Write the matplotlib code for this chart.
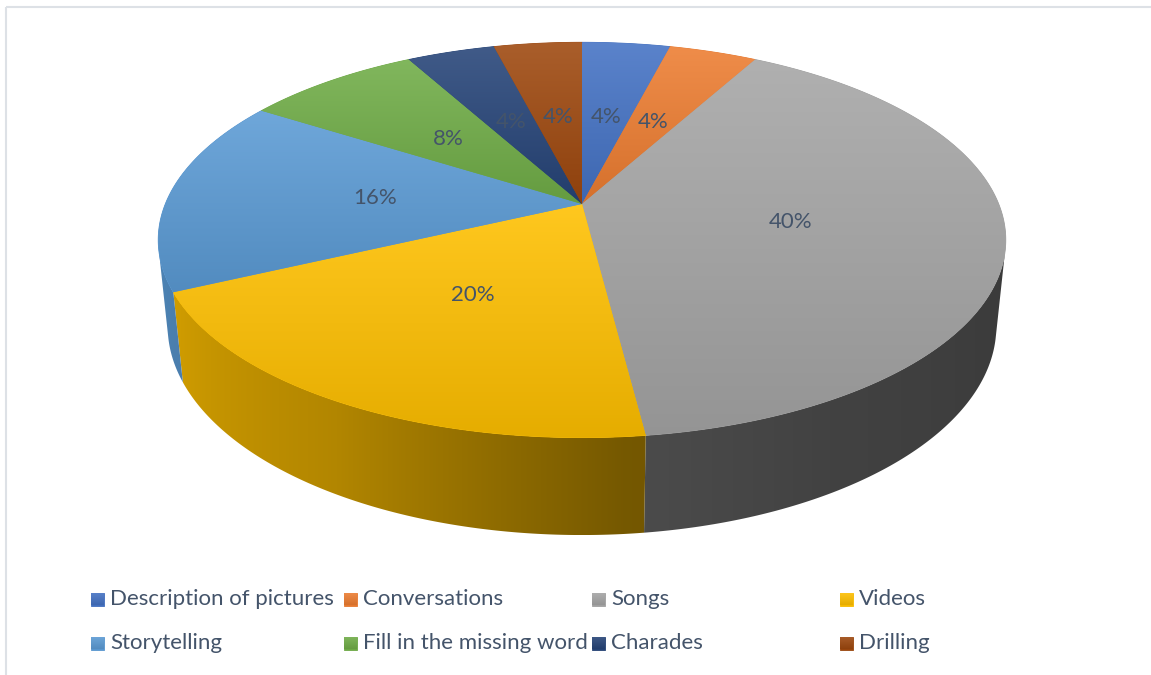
import numpy as np
import matplotlib.pyplot as plt
from matplotlib.patches import Polygon, Rectangle
from matplotlib.colors import to_rgb

categories = ['Description of pictures', 'Conversations', 'Songs', 'Videos',
              'Storytelling', 'Fill in the missing word', 'Charades', 'Drilling']
shares = [4, 4, 40, 20, 16, 8, 4, 4]
colors = ['#4472C4', '#ED7D31', '#A5A5A5', '#FFC000',
          '#5B9BD5', '#70AD47', '#264478', '#9E480E']

W, H = 1151, 675
TEXT = '#44546A'
FONT = 'Lato'

# camera for the tilted disc (unit radius, looking down from the front)
ELEV = np.radians(27.3)
DIST = 4.886
FOCAL = 2036.0
THICK = 0.235
CX, CY = 582, 204


def project(x, y, z):
    c, s = np.cos(ELEV), np.sin(ELEV)
    depth = DIST + y * c - z * s
    px = CX + FOCAL * x / depth
    py = CY - FOCAL * (y * s + z * c) / depth
    return px, py


def side_shade(theta_deg):
    # darker towards the right, lit from the left
    return np.interp(theta_deg, [-180, -167, -120, -85, -60, -13, 0],
                     [0.86, 0.86, 0.70, 0.46, 0.40, 0.35, 0.35])


def add_image(ax, img, poly, x0, x1, y0, y1, zorder):
    im = ax.imshow(img, extent=(x0, x1, y1, y0), origin='upper',
                   interpolation='bilinear', aspect='auto', zorder=zorder)
    im.set_clip_path(poly)


def gradient_patch(ax, xy, rgb, zorder):
    # vertical gradient, lighter at the top of the shape
    rgb = np.array(rgb)
    poly = Polygon(xy, closed=True, facecolor=rgb * 0.97, edgecolor=rgb * 0.97,
                   lw=0.6, zorder=zorder)
    ax.add_patch(poly)
    t = np.linspace(0, 1, 256)[:, None]
    light = rgb + (1 - rgb) * 0.12
    dark = rgb * 0.90
    img = (light * (1 - t) + dark * t)[:, None, :]
    add_image(ax, img, poly, xy[:, 0].min(), xy[:, 0].max(),
              xy[:, 1].min(), xy[:, 1].max(), zorder + 0.1)


fig = plt.figure(figsize=(W / 100, H / 100), dpi=100)
ax = fig.add_axes([0, 0, 1, 1])

total = sum(shares)
starts = np.cumsum([0] + shares[:-1]) / total
ends = np.cumsum(shares) / total
vis_limit = -1.0 / (DIST * np.cos(ELEV))

for frac0, frac1, col in zip(starts, ends, colors):
    base = np.array(to_rgb(col))
    th = np.radians(np.linspace(90 - 360 * frac0, 90 - 360 * frac1,
                                max(int(360 * (frac1 - frac0) * 3), 6)))

    # outer wall, only the part facing the viewer, shaded left to right
    wall = th[np.sin(th) < vis_limit]
    if len(wall) > 1:
        top = np.array([project(np.cos(t), np.sin(t), 0) for t in wall])
        bot = np.array([project(np.cos(t), np.sin(t), -THICK) for t in wall])
        xy = np.vstack([top, bot[::-1]])
        poly = Polygon(xy, closed=True, facecolor='none', edgecolor='none',
                       zorder=1)
        ax.add_patch(poly)
        x0, x1 = xy[:, 0].min(), xy[:, 0].max()
        xs = np.linspace(x0, x1, 400)
        order = np.argsort(top[:, 0])
        deg = np.degrees(np.arctan2(np.sin(wall), np.cos(wall)))
        xdeg = np.interp(xs, top[order, 0], deg[order])
        row = np.clip(base[None, :] * side_shade(xdeg)[:, None], 0, 1)
        add_image(ax, row[None, :, :], poly, x0, x1,
                  xy[:, 1].min(), xy[:, 1].max(), 1.1)

    # top face
    pts = [project(0, 0, 0)] + [project(np.cos(t), np.sin(t), 0) for t in th]
    gradient_patch(ax, np.array(pts), base, zorder=2)

# percentage labels on the top face
for frac0, frac1, val in zip(starts, ends, shares):
    mid = np.radians(90 - 360 * (frac0 + frac1) / 2)
    lx, ly = project(0.5 * np.cos(mid), 0.5 * np.sin(mid), 0)
    ax.text(lx, ly, f'{val / total:.0%}', ha='center', va='center',
            fontsize=16, color=TEXT, family=FONT, zorder=5)

# legend, four columns over two rows
col_x = [91, 344, 592, 840]
row_y = [599, 643]
for i, (name, col) in enumerate(zip(categories, colors)):
    mx, my = col_x[i % 4], row_y[i // 4]
    sq = np.array([[mx, my - 6.5], [mx + 13, my - 6.5],
                   [mx + 13, my + 6.5], [mx, my + 6.5]])
    gradient_patch(ax, sq, np.array(to_rgb(col)), zorder=4)
    ax.text(mx + 19, my, name, ha='left', va='center', fontsize=16,
            color=TEXT, family=FONT, zorder=5)

# chart area border
ax.add_patch(Rectangle((6.5, 6.5), W, H, fill=False, edgecolor='#DDE1E6',
                       lw=1.5, zorder=6))

ax.set_xlim(0, W)
ax.set_ylim(H, 0)
ax.axis('off')
fig.savefig('out.png', dpi=100)
